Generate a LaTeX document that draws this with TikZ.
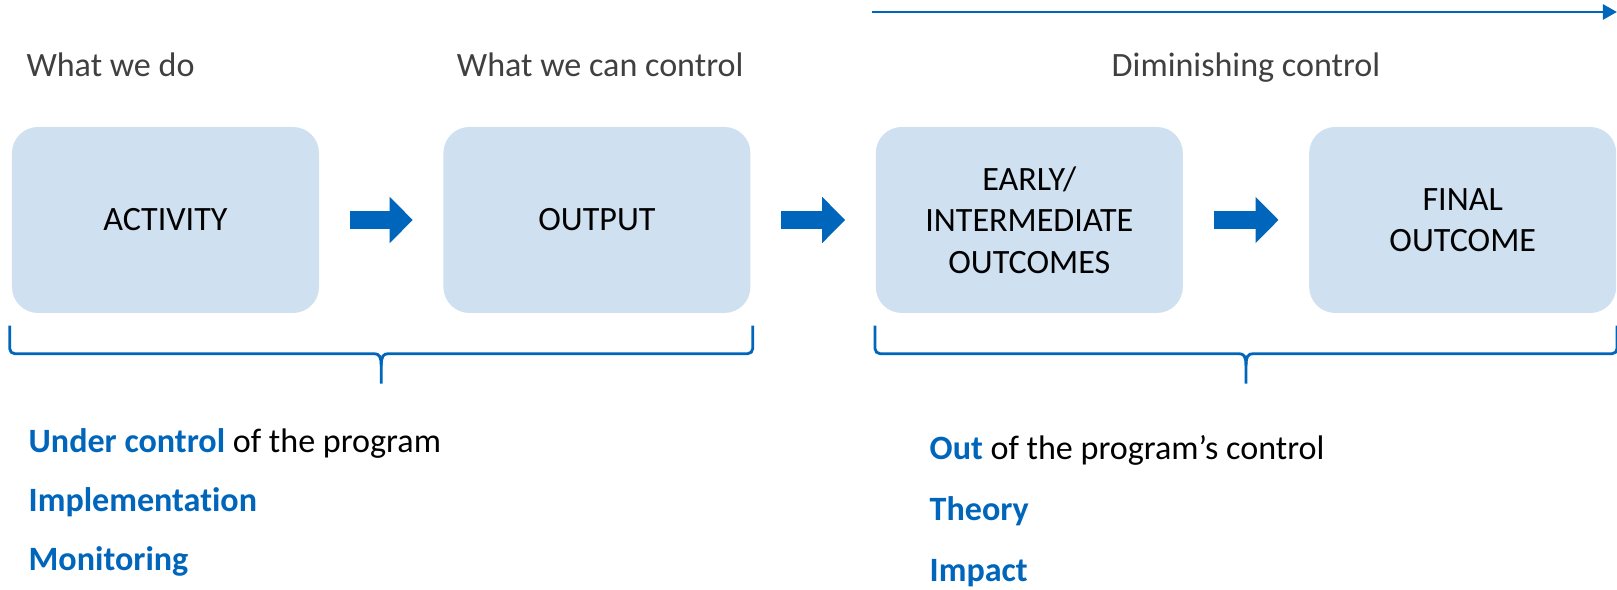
\documentclass[tikz,border=0pt]{standalone}
\usepackage{fontspec}
\setmainfont[Ligatures=NoCommon]{Carlito}
\usetikzlibrary{positioning, calc, arrows.meta}
\definecolor{boxblue}{HTML}{CFE0F1}
\definecolor{ctlblue}{HTML}{0066BB}
\definecolor{hdrgray}{HTML}{404040}

\tikzset{
	stage/.style={fill=boxblue, rounded corners=2.6mm, minimum width=3.07cm, minimum height=1.86cm, inner sep=0pt, align=center, font=\fontsize{9.7}{11.8}\selectfont},
	hdr/.style={anchor=base west, inner sep=0pt, text=hdrgray, font=\fontsize{9.7}{11.8}\selectfont},
	note/.style={anchor=base west, inner sep=0pt, font=\fontsize{9.7}{11.8}\selectfont},
	keyword/.style={note, text=ctlblue, font=\fontsize{9.7}{11.8}\selectfont\bfseries},
	blockarrow/.style={ctlblue, line width=1.8mm, shorten <=3mm, shorten >=3mm, -{Triangle[length=2.3mm, width=4.5mm]}},
	brace/.style={ctlblue, line width=0.8pt},
	pics/ctlbrace/.style={code={
		\draw[brace] (-#1,0) -- (-#1,-0.23) to[out=-90,in=180] ({-#1+0.05},-0.28) -- (-0.07,-0.28) .. controls (-0.02,-0.28) and (0,-0.31) .. (0,-0.40) -- (0,-0.58);
		\draw[brace] (#1,0) -- (#1,-0.23) to[out=-90,in=0] ({#1-0.05},-0.28) -- (0.07,-0.28) .. controls (0.02,-0.28) and (0,-0.31) .. (0,-0.40);
	}}
}

\begin{document}
\begin{tikzpicture}
	\useasboundingbox (0,0) rectangle (16.17,5.90);
	\node[stage] (act) at (1.655,3.70) {ACTIVITY};
	\node[stage, right=1.23cm of act] (out) {OUTPUT};
	\node[stage, right=1.24cm of out] (early) {EARLY/\\INTERMEDIATE\\OUTCOMES};
	\node[stage, right=1.25cm of early] (final) {FINAL\\OUTCOME};
	\draw[blockarrow] (act) -- (out);
	\draw[blockarrow] (out) -- (early);
	\draw[blockarrow] (early) -- (final);

	\node[hdr] (do) at ([shift={(0.145,0.50)}]act.north west) {What we do};
	\node[hdr] (can) at ([shift={(0.135,0.50)}]out.north west) {What we can control};
	\node[hdr, anchor=base] (dim) at ($(early.north west)!0.5!(final.north east)+(0,0.50)$) {Diminishing control};
	\coordinate (ctl-a) at ([shift={(-0.03,1.143)}]early.north west);
	\coordinate (ctl-b) at ([shift={(0,1.143)}]final.north east);
	\draw[ctlblue, line width=0.75pt, -{Triangle[length=1.4mm, width=1.5mm]}] (ctl-a) -- (ctl-b);

	\pic at ($(act.south west)!0.5!(out.south east)+(0,-0.12)$) {ctlbrace=3.715};
	\pic at ($(early.south west)!0.5!(final.south east)+(0,-0.12)$) {ctlbrace=3.71};

	\node[note] (under) at (0.28,1.37) {\textcolor{ctlblue}{\textbf{Under control}} of the program};
	\node[keyword] (impl) at ([yshift=-5.9mm]under.base west) {Implementation};
	\node[keyword] (mon) at ([yshift=-5.9mm]impl.base west) {Monitoring};
	\node[note] (outof) at (9.29,1.30) {\textcolor{ctlblue}{\textbf{Out}} of the program’s control};
	\node[keyword] (theory) at ([yshift=-6.1mm]outof.base west) {Theory};
	\node[keyword] (impact) at ([yshift=-6.1mm]theory.base west) {Impact};
\end{tikzpicture}
\end{document}
